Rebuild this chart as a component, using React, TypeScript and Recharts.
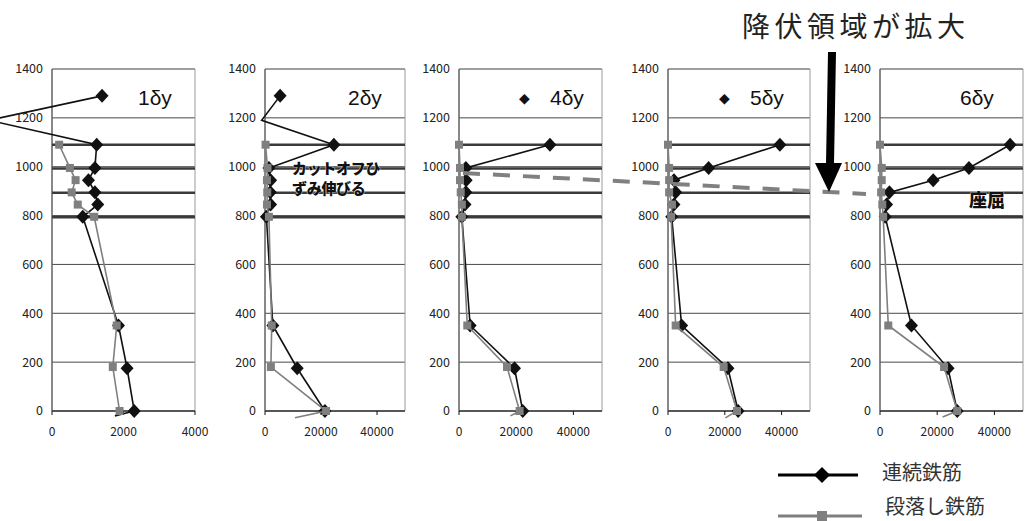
import React from "react";
import { ComposedChart, Scatter, XAxis, YAxis, CartesianGrid, ReferenceLine, ReferenceArea } from "recharts";

// 高さ方向の目盛り (mm)
const yTicks = [0, 200, 400, 600, 800, 1000, 1200, 1400];
const xTicksSmall = [0, 2000, 4000];
const xTicksWide = [0, 20000, 40000];
const panelLabels = ["1δy", "2δy", "4δy", "5δy", "6δy"];
const markedLabels = [false, false, true, true, false];

// 段落し位置付近の太線
const cutoffLevels = [1090, 993, 893, 793];

// 連続鉄筋 (ひずみ, 高さ)
const cont1X = [1400, -1760, 1250, 1200, 1020, 1200, 1280, 860, 1860, 2100, 2300, 1760];
const cont1Y = [1290, 1190, 1090, 995, 945, 895, 845, 795, 350, 175, 0, -20];
const cont2X = [5400, -1200, 24600, 1400, 2000, 1900, 2000, 500, 2800, 11500, 21400];
const cont2Y = [1290, 1190, 1090, 995, 945, 895, 845, 795, 350, 175, 0];
const contY = [1090, 995, 945, 895, 845, 795, 350, 175, 0];
const cont3X = [31800, 2400, 2500, 2400, 2100, 1000, 3900, 19400, 22300];
const cont4X = [39400, 14300, 2100, 2700, 2100, 1300, 4800, 21100, 24700];
const cont5X = [45500, 31100, 18600, 3300, 2300, 1800, 11000, 23800, 27000];

// 段落し鉄筋
const cut1X = [200, 500, 660, 550, 720, 1180, 1810, 1700, 1890];
const cut1Y = [1090, 995, 945, 895, 845, 795, 350, 180, 0];
const cut2X = [200, 900, 700, 800, 700, 1400, 2400, 2100, 21800, 10700];
const cut2Y = [1090, 995, 945, 895, 845, 795, 350, 180, 0, -28];
const cut3X = [0, 350, 350, 600, 1000, 1000, 2900, 16800, 21200, 18000];
const cut3Y = [1090, 995, 945, 895, 845, 795, 350, 180, 0, -20];
const cut4X = [0, 400, 400, 400, 1400, 1100, 2700, 19600, 24300, 20200];
const cut4Y = [1090, 995, 945, 895, 845, 795, 350, 180, 0, -28];
const cut5X = [0, 600, 600, 400, 800, 1100, 2900, 22400, 27000, 21900];
const cut5Y = [1090, 995, 945, 895, 845, 795, 350, 180, 0, -25];

const zip = (xs: number[], ys: number[]) => xs.map((x, i) => ({ x, y: ys[i] }));

const contSeries = [
  zip(cont1X, cont1Y),
  zip(cont2X, cont2Y),
  zip(cont3X, contY),
  zip(cont4X, contY),
  zip(cont5X, contY),
];
const cutSeries = [zip(cut1X, cut1Y), zip(cut2X, cut2Y), zip(cut3X, cut3Y), zip(cut4X, cut4Y), zip(cut5X, cut5Y)];

const plotLeft = [52, 265, 459, 668, 880];
const plotRight = [195, 405, 602, 810, 1023];
const xMaxes = [4000, 50000, 50000, 50000, 50000];
const labelLeft = [138, 348, 550, 750, 960];

const FONT = '"Noto Sans CJK JP", "Noto Sans", sans-serif';
const BLACK = "#111";
const GRAY = "#7f7f7f";
const RIGHT_PAD = 18;
const CHART_TOP = 48;

const outside = (p: any) => !p.payload || p.payload.x < 0 || p.payload.y < 0;

const Diamond = (p: any) => {
  if (outside(p)) return <g />;
  const { cx, cy } = p;
  return <polygon points={`${cx},${cy - 7} ${cx + 6.5},${cy} ${cx},${cy + 7} ${cx - 6.5},${cy}`} fill={BLACK} />;
};

const Square = (p: any) => {
  if (outside(p)) return <g />;
  const { cx, cy } = p;
  return <rect x={cx - 4} y={cy - 4} width={8} height={8} fill={GRAY} />;
};

function Panel({ i }: { i: number }) {
  const left = plotLeft[i] - 52;
  const width = plotRight[i] - left + RIGHT_PAD;
  const xMax = xMaxes[i];
  // plot area: y 69 .. 411 on the page
  const top = 69 - CHART_TOP;
  const bottom = 400 - (411 - CHART_TOP) - 30;
  return (
    <div style={{ position: "absolute", left, top: CHART_TOP }}>
      <ComposedChart width={width} height={400} margin={{ top, right: RIGHT_PAD, bottom, left: 0 }}>
        <CartesianGrid vertical={false} stroke="#1a1a1a" strokeWidth={0.8} />
        <XAxis
          type="number"
          dataKey="x"
          domain={[0, xMax]}
          ticks={i === 0 ? xTicksSmall : xTicksWide}
          allowDataOverflow
          interval={0}
          height={30}
          tickSize={4}
          tickMargin={12}
          stroke="#111"
          tick={{ fontSize: 12, fill: "#222" }}
        />
        <YAxis
          type="number"
          dataKey="y"
          domain={[0, 1400]}
          ticks={yTicks}
          allowDataOverflow
          interval={0}
          width={52}
          tickSize={0}
          tickMargin={9}
          stroke="#444"
          tick={{ fontSize: 12.5, fill: "#222" }}
        />
        <ReferenceArea x1={0} x2={xMax} y1={0} y2={1400} fill="none" stroke="#9a9a9a" strokeWidth={1} />
        {cutoffLevels.map((v) => (
          <ReferenceLine key={v} y={v} stroke="#3a3a3a" strokeWidth={2.5} />
        ))}
        <Scatter
          data={contSeries[i]}
          fill={BLACK}
          line={{ stroke: BLACK, strokeWidth: 1.6 }}
          lineJointType="linear"
          shape={Diamond}
          isAnimationActive={false}
        />
        <Scatter
          data={cutSeries[i]}
          fill={GRAY}
          line={{ stroke: GRAY, strokeWidth: 1.6 }}
          lineJointType="linear"
          shape={Square}
          isAnimationActive={false}
        />
      </ComposedChart>
      <div
        style={{
          position: "absolute",
          left: labelLeft[i] - left,
          top: 86 - CHART_TOP,
          fontFamily: '"Liberation Sans", Arial, sans-serif',
          fontSize: 21,
          lineHeight: "24px",
          color: "#111",
          whiteSpace: "nowrap",
        }}
      >
        {markedLabels[i] && (
          <span style={{ position: "absolute", left: -31, top: 0, fontSize: 14 }}>◆</span>
        )}
        {panelLabels[i]}
      </div>
    </div>
  );
}

export default function App() {
  return (
    <div style={{ position: "absolute", left: 0, top: 0, width: 1027, height: 521, background: "#fff", fontFamily: FONT, overflow: "hidden" }}>
      <style>{`.recharts-scatter{clip-path:none !important}`}</style>
      {[0, 1, 2, 3, 4].map((i) => (
        <Panel key={i} i={i} />
      ))}

      <svg width={1027} height={521} style={{ position: "absolute", left: 0, top: 0, pointerEvents: "none" }}>
        <line x1={463} y1={173} x2={866} y2={194} stroke="#808080" strokeWidth={4} strokeDasharray="17 13" />
        <polygon points="828,52 836,52 834,164 826,164" fill="#000" />
        <polygon points="815,163 842,163 829,192" fill="#000" />
      </svg>

      <div style={{ position: "absolute", left: 742, top: 8, fontSize: 28, lineHeight: "34px", letterSpacing: 4.5, color: "#222", whiteSpace: "nowrap" }}>
        降伏領域が拡大
      </div>

      <div
        style={{
          position: "absolute",
          left: 292,
          top: 158,
          fontSize: 15,
          lineHeight: "20px",
          fontWeight: 900,
          color: "#111",
          letterSpacing: -0.3,
          textShadow: "0 0 1px #fff, 0 0 1px #fff",
          whiteSpace: "nowrap",
        }}
      >
        カットオフひ
        <br />
        ずみ伸びる
      </div>

      <div
        style={{
          position: "absolute",
          left: 969,
          top: 188,
          fontSize: 18,
          lineHeight: "22px",
          fontWeight: 900,
          color: "#111",
          textShadow: "0 0 1px #fff, 0 0 1px #fff",
        }}
      >
        座屈
      </div>

      <svg width={90} height={60} style={{ position: "absolute", left: 776, top: 461 }}>
        <line x1={2} y1={14} x2={82} y2={14} stroke="#000" strokeWidth={3} />
        <polygon points="46,6 54,14 46,22 38,14" fill="#000" />
        <line x1={2} y1={55} x2={86} y2={55} stroke={GRAY} strokeWidth={3} />
        <rect x={41} y={50} width={10} height={10} fill={GRAY} />
      </svg>
      <div style={{ position: "absolute", left: 882, top: 461, fontSize: 20, lineHeight: "22px", color: "#333" }}>連続鉄筋</div>
      <div style={{ position: "absolute", left: 885, top: 496, fontSize: 20, lineHeight: "20px", color: "#333" }}>段落し鉄筋</div>
    </div>
  );
}
